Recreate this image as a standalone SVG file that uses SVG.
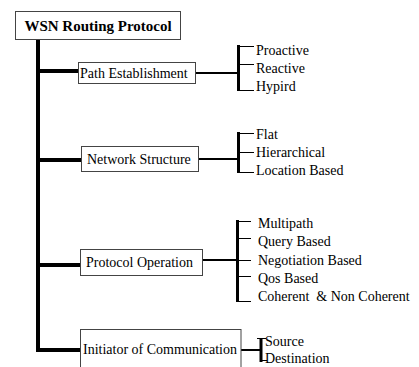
<svg xmlns="http://www.w3.org/2000/svg" width="419" height="367" viewBox="0 0 419 367" font-family="Liberation Serif, serif">
<style>
text{font-family:"Liberation Serif",serif;font-size:14px;fill:#000}
.root{font-weight:bold;font-size:15px}
.box{fill:#fff;stroke:#444;stroke-width:1}
.thick{fill:#000}
.conn{stroke:#000;stroke-width:2;fill:none}
.tick{stroke:#000;stroke-width:1;fill:none}
.sub{stroke:#000;stroke-width:3;fill:none}
</style>
<rect width="419" height="367" fill="#fff"/>
<g id="connectors">
<rect class="thick" x="36" y="39" width="4" height="313"/>
<rect class="thick" x="36" y="69" width="42" height="4"/>
<rect class="thick" x="36" y="158" width="45" height="4"/>
<rect class="thick" x="36" y="263" width="44" height="4"/>
<rect class="thick" x="36" y="348" width="44" height="4"/>
<line class="conn" x1="195" y1="73" x2="238" y2="73"/>
<line class="sub" x1="238.5" y1="45" x2="238.5" y2="91"/>
<path class="tick" d="M240 46.5H254M240 64.5H254M240 90.5H254"/>
<line class="conn" x1="199" y1="159" x2="238" y2="159"/>
<line class="sub" x1="238.5" y1="132" x2="238.5" y2="173"/>
<path class="tick" d="M240 133.5H254M240 152.5H254M240 172.5H254"/>
<line class="conn" x1="202" y1="260" x2="237" y2="260"/>
<line class="sub" x1="237.5" y1="220" x2="237.5" y2="302"/>
<path class="tick" d="M239 221.5H251M239 238.5H251M239 260.5H251M239 276.5H251M239 301.5H251"/>
<line class="conn" x1="241" y1="350" x2="260" y2="350"/>
<line class="sub" x1="261" y1="338" x2="261" y2="362"/>
<path class="tick" d="M257 338.5H266M261 360.5H267"/>
</g>
<g id="root">
<rect class="box" x="15.5" y="11.5" width="165" height="28"/>
<text class="root" font-family="Liberation Serif" x="98" y="30.5" text-anchor="middle">WSN Routing Protocol</text>
</g>
<g id="path-establishment">
<rect class="box" x="78.5" y="62.5" width="117" height="21"/>
<text font-family="Liberation Serif" x="80" y="77.5">Path Establishment</text>
</g>
<g id="path-children" font-family="Liberation Serif">
<text x="256" y="55">Proactive</text>
<text x="256" y="73">Reactive</text>
<text x="256" y="91">Hypird</text>
</g>
<g id="network-structure">
<rect class="box" x="81.5" y="146.5" width="117" height="25"/>
<text font-family="Liberation Serif" x="87" y="164">Network Structure</text>
</g>
<g id="network-children">
<text x="256" y="139">Flat</text>
<text x="256" y="157">Hierarchical</text>
<text x="256" y="175">Location Based</text>
</g>
<g id="protocol-operation">
<rect class="box" x="80.5" y="249.5" width="122" height="26"/>
<text x="86" y="267">Protocol Operation</text>
</g>
<g id="protocol-children">
<text x="258" y="228">Multipath</text>
<text x="258" y="246">Query Based</text>
<text x="258" y="265">Negotiation Based</text>
<text x="258" y="283">Qos Based</text>
<text x="258" y="301" xml:space="preserve">Coherent  &amp; Non Coherent</text>
</g>
<g id="initiator">
<rect class="box" x="80.5" y="329.5" width="160.5" height="50"/>
<text x="83" y="354">Initiator of Communication</text>
</g>
<g id="initiator-children">
<text x="265" y="346">Source</text>
<text x="265" y="363">Destination</text>
</g>
</svg>
